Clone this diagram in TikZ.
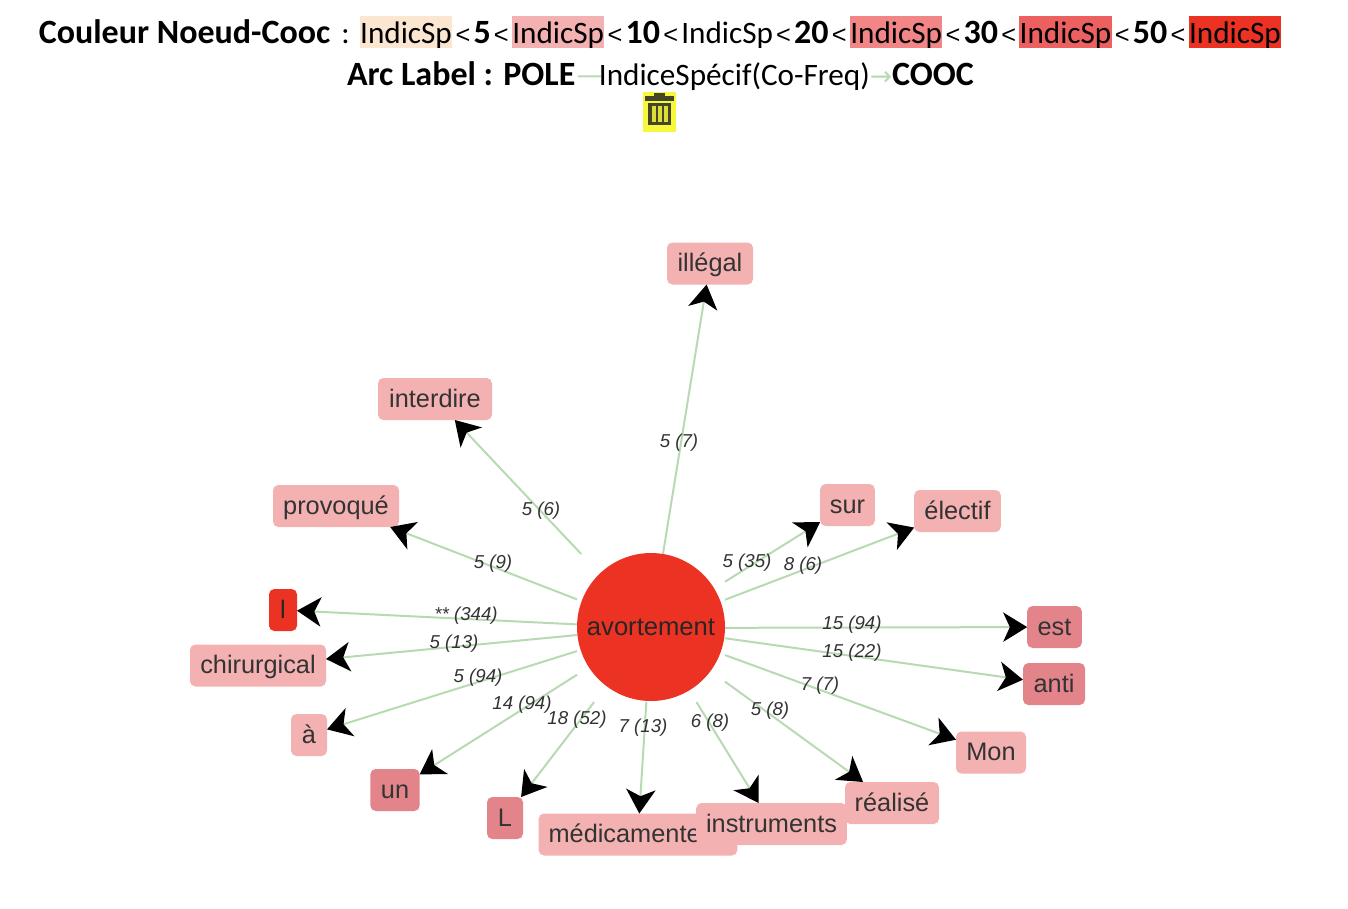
\documentclass[tikz,border=0pt]{standalone}
\usepackage{fontspec}
\usepackage{xcolor}
\usetikzlibrary{arrows.meta}
\setmainfont{Liberation Sans}
\newfontfamily\headfont{Carlito}
\newfontfamily\symfont{DejaVu Sans}
\definecolor{edgegreen}{HTML}{B8DAB2}
\definecolor{pale}{HTML}{F4B1B1}
\definecolor{mid}{HTML}{E3848B}
\definecolor{hot}{HTML}{EC3323}
\definecolor{cream}{HTML}{FBE6D2}
\definecolor{lvlc}{HTML}{F28686}
\definecolor{lvld}{HTML}{EC6060}
\definecolor{ink}{HTML}{333333}
\definecolor{trash}{HTML}{45452A}
\definecolor{trashbg}{HTML}{F8F83A}
\newcommand{\hb}[2]{{\setlength{\fboxsep}{0pt}\colorbox{#1}{\kern0.3pt\vrule width0pt height20.5pt depth3.5pt #2\kern0.3pt}}}
\newcommand{\ltk}{\kern2.4pt{\fontspec{Liberation Sans}\fontsize{19pt}{22pt}\selectfont<}\kern2.4pt}
\newcommand{\bd}[1]{{\bfseries\fontsize{25.5pt}{28pt}\selectfont #1}}
\tikzset{
  every node/.style={inner sep=0pt, outer sep=0pt},
  headline/.style={font=\headfont\fontsize{23.4pt}{26pt}\selectfont, text=black, anchor=center},
  cooc/.style={rounded corners=4pt, minimum height=31.5pt, text=ink, text height=14pt, text depth=2pt, font=\fontsize{19pt}{22pt}\selectfont, fill=pale},
  coocmid/.style={cooc, fill=mid},
  coochot/.style={cooc, fill=hot, text=black!85},
  pole/.style={circle, fill=hot, minimum size=111pt, text=black!85, font=\fontsize{19.2pt}{22pt}\selectfont},
  polebox/.style={rectangle, minimum size=111pt},
  arcline/.style={draw=edgegreen, line width=1.5pt, -{Stealth[length=18pt,width=22pt,inset=5pt,black]}},
  arclabel/.style={text=ink, font=\itshape\fontsize{14pt}{16pt}\selectfont}
}
\begin{document}
\begin{tikzpicture}[x=0.75pt,y=-0.75pt]
\useasboundingbox (0,0) rectangle (1348,908);
% legend
\node[headline] (legend) at (660,32) {\bd{Couleur Noeud-Cooc}\kern3pt{} :\kern0.5pt{} \hb{cream}{IndicSp}\ltk\bd{5}\ltk\hb{pale}{IndicSp}\ltk\bd{10}\ltk IndicSp\ltk\bd{20}\ltk\hb{lvlc}{IndicSp}\ltk\bd{30}\ltk\hb{lvld}{IndicSp}\ltk\bd{50}\ltk\hb{hot}{IndicSp}};
\node[headline] (arclegend) at (660.5,76) {\bd{Arc Label : POLE}\textcolor{edgegreen}{—}\kern-3.5pt{}IndiceSpécif(Co-Freq)\textcolor{edgegreen}{\symfont\fontsize{20pt}{22pt}\selectfont →}\bd{COOC}};
% trash icon
\fill[trashbg] (643,92) rectangle (676,132);
\fill[trash] (654,93) rectangle (665,96);
\fill[trash] (645,96) rectangle (674,101);
\fill[trash] (648,103) rectangle (671,125);
\fill[trashbg!85!trash] (651.5,106) rectangle (655.5,122);
\fill[trashbg!85!trash] (657.5,106) rectangle (661.5,122);
\fill[trashbg!85!trash] (663.5,106) rectangle (667.5,122);
% centre
\node[polebox] (hub) at (651,628) {};
% co-occurrence nodes
\node[cooc, minimum width=64.5pt] (illegal) at (710,263.5) {illégal};
\node[cooc, minimum width=85.5pt] (interdire) at (435,399) {interdire};
\node[cooc, minimum width=94.5pt] (provoque) at (336,506) {provoqué};
\node[coochot, minimum width=21pt] (l) at (283,610) {l};
\node[cooc, minimum width=102pt] (chirurgical) at (258,665.5) {chirurgical};
\node[cooc, minimum width=27pt] (a) at (309,735) {à};
\node[coocmid, minimum width=37pt] (un) at (395,790) {un};
\node[coocmid, minimum width=27pt] (L) at (505,818) {L};
\node[cooc, minimum width=149pt] (medic) at (638,834.5) {médicamenteux};
\node[cooc, minimum width=70.5pt] (realise) at (892,803) {réalisé};
\node[cooc, minimum width=113pt] (instruments) at (771.5,824) {instruments};
\node[cooc, minimum width=52.5pt] (mon) at (991,752.5) {Mon};
\node[coocmid, minimum width=46.5pt] (anti) at (1054,684) {anti};
\node[coocmid, minimum width=41pt] (est) at (1054.5,627) {est};
\node[cooc, minimum width=65pt] (electif) at (957.5,511) {électif};
\node[cooc, minimum width=41pt] (sur) at (847.5,505) {sur};
% connectors
\draw[arcline] (hub) -- (illegal);
\draw[arcline] (hub) -- (interdire);
\draw[arcline] (hub) -- (provoque);
\draw[arcline] (hub) -- (l);
\draw[arcline] (hub) -- (chirurgical);
\draw[arcline] (hub) -- (a);
\draw[arcline] (hub) -- (un);
\draw[arcline] (hub) -- (L);
\draw[arcline] (hub) -- (medic);
\draw[arcline] (hub) -- (instruments);
\draw[arcline] (hub) -- (realise);
\draw[arcline] (hub) -- (mon);
\draw[arcline] (hub) -- (anti);
\draw[arcline] (hub) -- (est);
\draw[arcline] (hub) -- (electif);
\draw[arcline] (hub) -- (sur);
\node[pole] (avortement) at (651,627) {avortement};
% arc labels
\node[arclabel] (la1) at (679,443) {5 (7)};
\node[arclabel] (la2) at (541,511) {5 (6)};
\node[arclabel] (la3) at (493,564) {5 (9)};
\node[arclabel] (la4) at (466,616) {** (344)};
\node[arclabel] (la5) at (454,644) {5 (13)};
\node[arclabel] (la6) at (478,678) {5 (94)};
\node[arclabel] (la7) at (522,705) {14 (94)};
\node[arclabel] (la8) at (577,720) {18 (52)};
\node[arclabel] (la9) at (643,728) {7 (13)};
\node[arclabel] (la10) at (710,723) {6 (8)};
\node[arclabel] (la11) at (770,711) {5 (8)};
\node[arclabel] (la12) at (820,686) {7 (7)};
\node[arclabel] (la13) at (852,653) {15 (22)};
\node[arclabel] (la14) at (852,625) {15 (94)};
\node[arclabel] (la15) at (803,566) {8 (6)};
\node[arclabel] (la16) at (747,563) {5 (35)};
\end{tikzpicture}
\end{document}
